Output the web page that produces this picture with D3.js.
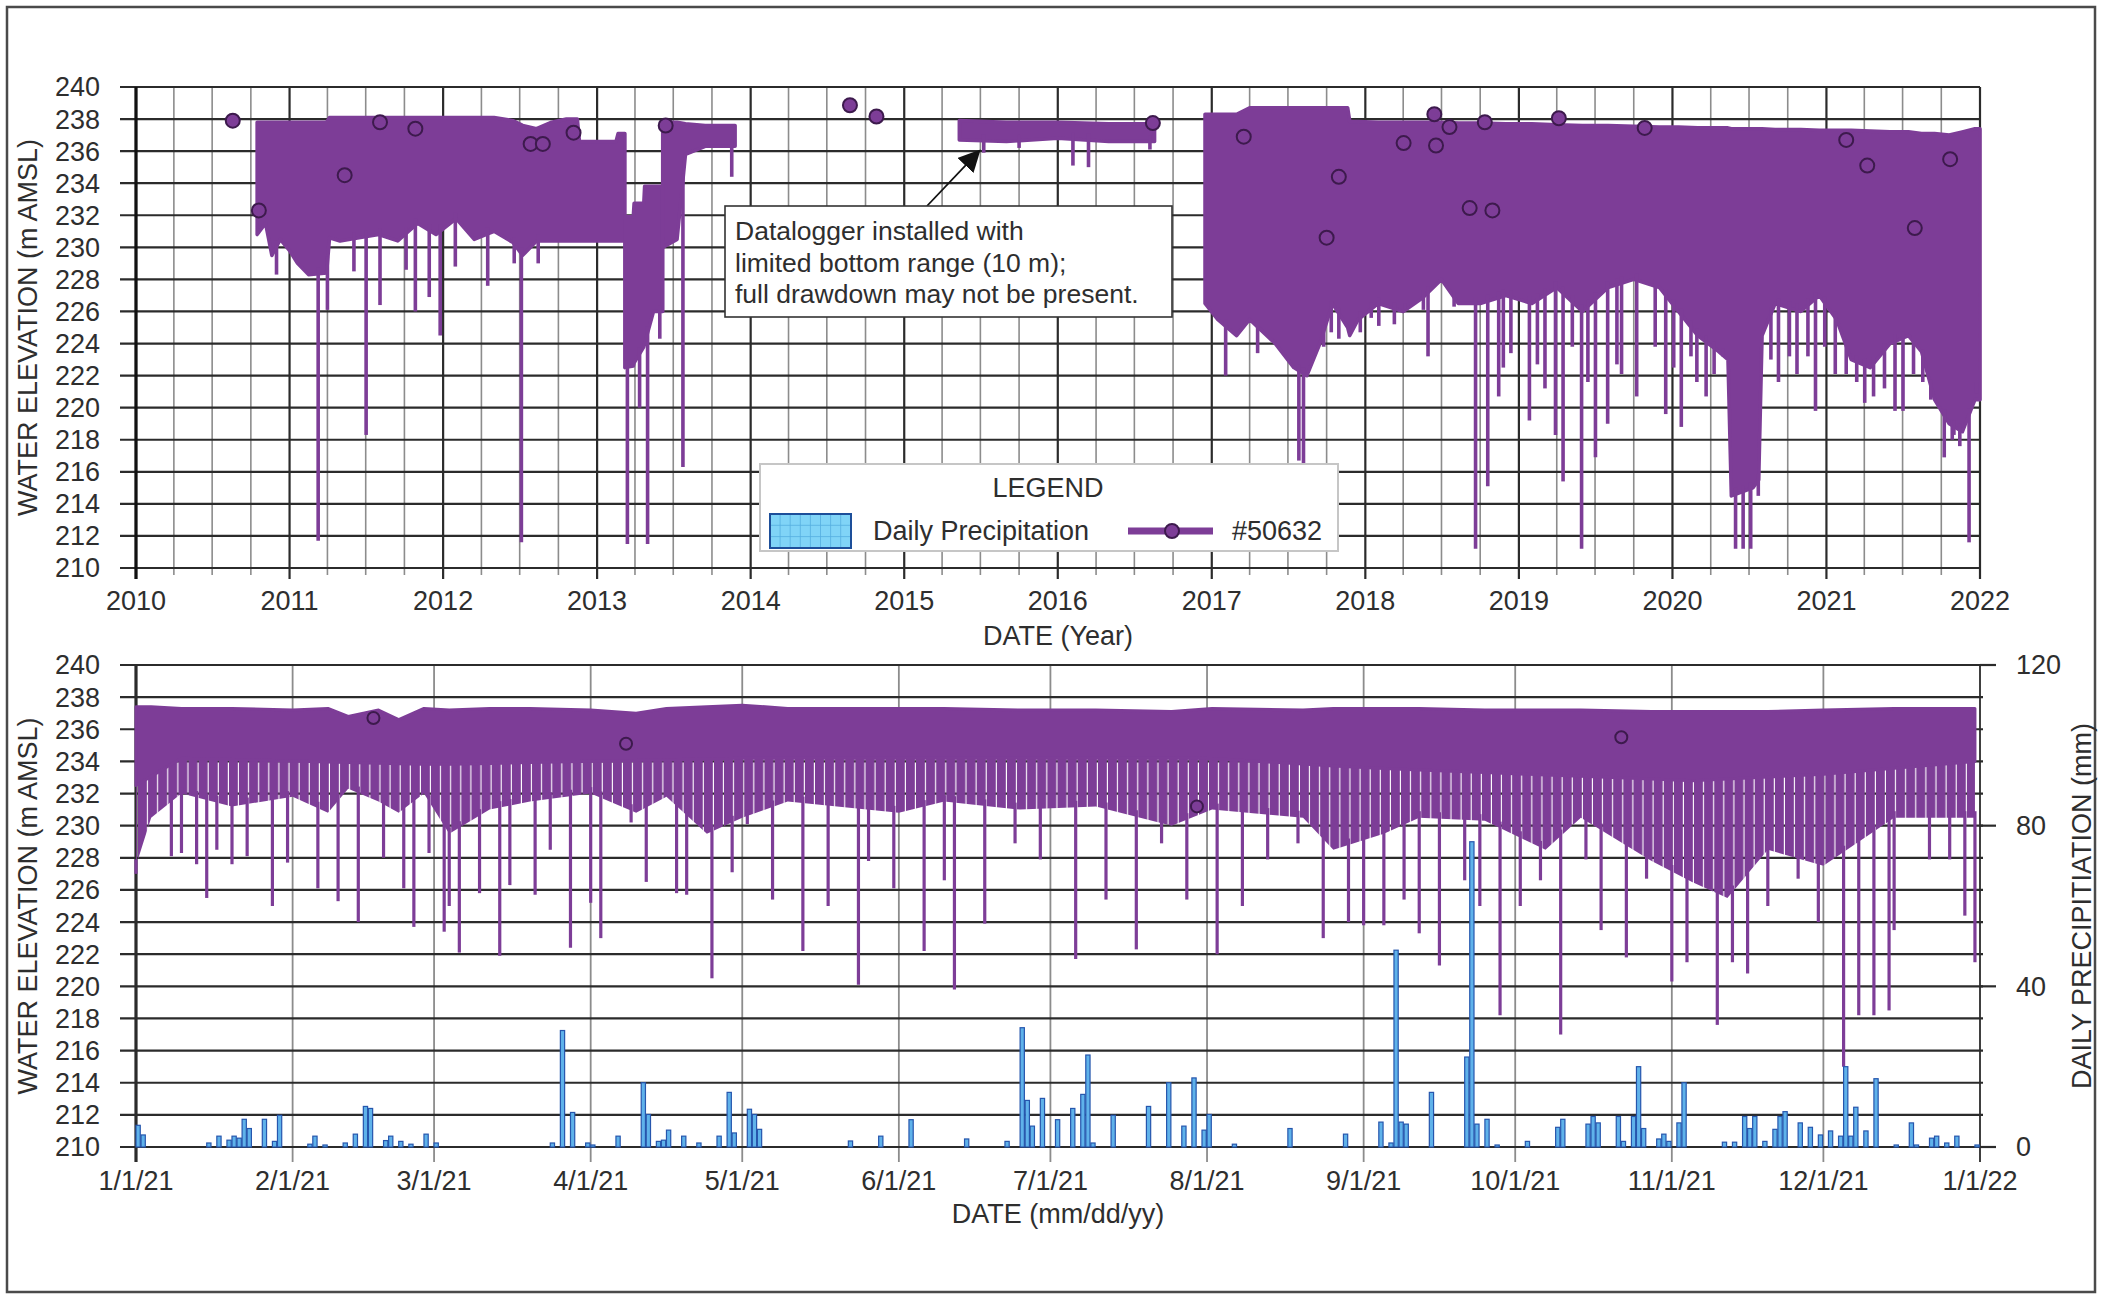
<!DOCTYPE html>
<html>
<head>
<meta charset="utf-8">
<script src="https://cdn.jsdelivr.net/npm/d3@7"></script>
<style>
  html, body { margin: 0; padding: 0; background: #fff; }
  svg text { font-family: "Liberation Sans", Arial, sans-serif; fill: #2e2e2e; }
</style>
</head>
<body>
<svg id="chart" width="2108" height="1294"></svg>
<script>
// ---- data ----
const elevationTicks = [210, 212, 214, 216, 218, 220, 222, 224, 226, 228, 230, 232, 234, 236, 238, 240];
const yearTicks = [2010, 2011, 2012, 2013, 2014, 2015, 2016, 2017, 2018, 2019, 2020, 2021, 2022];
const monthTickLabels = ['1/1/21', '2/1/21', '3/1/21', '4/1/21', '5/1/21', '6/1/21', '7/1/21',
  '8/1/21', '9/1/21', '10/1/21', '11/1/21', '12/1/21', '1/1/22'];
const precipTicks = [0, 40, 80, 120];

// datalogger record (2010-2022), envelope of the hourly trace: [date, upper, lower]
const logA = [
  ['2010-10-16', 237.8, 230.8], ['2010-11-05', 237.8, 231.5], ['2010-11-20', 237.8, 229.5],
  ['2010-12-10', 237.8, 230.5], ['2011-01-01', 237.8, 229.8], ['2011-01-20', 237.8, 229.0],
  ['2011-02-15', 237.8, 228.3], ['2011-03-30', 237.8, 228.4], ['2011-04-06', 238.1, 230.6],
  ['2011-05-01', 238.1, 230.4], ['2011-06-15', 238.1, 230.6], ['2011-08-01', 238.1, 230.8],
  ['2011-09-15', 238.1, 230.4], ['2011-11-01', 238.1, 231.5], ['2011-12-15', 238.1, 230.8],
  ['2012-02-01', 238.1, 231.8], ['2012-03-15', 238.1, 230.5], ['2012-05-01', 238.1, 231.0],
  ['2012-06-15', 237.9, 230.3], ['2012-07-08', 237.6, 229.5], ['2012-08-10', 237.4, 230.4],
  ['2012-09-15', 237.8, 230.4], ['2012-10-20', 238.0, 230.4], ['2012-11-15', 238.0, 230.4],
  ['2012-11-20', 236.6, 230.4], ['2013-02-15', 236.6, 230.4], ['2013-02-20', 237.1, 230.4],
  ['2013-03-08', 237.1, 230.4]
];
const logB = [
  ['2013-03-08', 231.9, 222.5], ['2013-03-28', 231.9, 222.6], ['2013-03-30', 232.75, 222.8],
  ['2013-04-22', 232.75, 223.8], ['2013-04-24', 233.8, 224.0], ['2013-05-15', 233.8, 226.0],
  ['2013-06-06', 233.8, 226.0]
];
const logC = [
  ['2013-06-06', 237.8, 230.0], ['2013-07-10', 237.8, 230.5], ['2013-07-30', 237.7, 235.8],
  ['2013-09-15', 237.6, 236.3], ['2013-11-25', 237.6, 236.3]
];
const logD = [
  ['2015-05-12', 237.9, 236.7], ['2015-09-01', 237.8, 236.6], ['2016-01-01', 237.8, 236.8],
  ['2016-05-01', 237.7, 236.6], ['2016-08-18', 237.7, 236.6]
];
const logE = [
  ['2016-12-16', 238.3, 226.5], ['2017-01-15', 238.3, 225.5], ['2017-03-01', 238.3, 224.5],
  ['2017-04-01', 238.7, 225.5], ['2017-06-01', 238.7, 224.0], ['2017-07-15', 238.7, 222.5],
  ['2017-08-15', 238.7, 222.0], ['2017-09-15', 238.7, 224.0], ['2017-10-15', 238.7, 226.5],
  ['2017-11-20', 238.7, 225.0], ['2017-11-25', 237.85, 224.5], ['2017-12-15', 237.85, 225.5],
  ['2018-02-01', 237.8, 226.5], ['2018-04-01', 237.8, 226.0], ['2018-05-15', 237.8, 226.8],
  ['2018-07-01', 237.8, 228.0], ['2018-08-10', 237.75, 226.5], ['2018-10-01', 237.75, 226.5],
  ['2018-12-01', 237.7, 227.0], ['2019-02-01', 237.7, 226.5], ['2019-04-01', 237.65, 227.5],
  ['2019-06-01', 237.6, 226.0], ['2019-08-01', 237.6, 227.5], ['2019-10-01', 237.55, 228.0],
  ['2019-12-01', 237.5, 227.5], ['2020-01-15', 237.5, 226.0], ['2020-03-01', 237.45, 224.5],
  ['2020-04-20', 237.45, 223.5], ['2020-05-12', 237.45, 223.0], ['2020-05-20', 237.4, 214.5],
  ['2020-07-10', 237.4, 215.0], ['2020-07-24', 237.4, 215.5], ['2020-08-01', 237.4, 224.5],
  ['2020-09-01', 237.35, 226.5], ['2020-11-01', 237.35, 226.0], ['2020-12-15', 237.3, 227.0],
  ['2021-01-25', 237.3, 225.5], ['2021-03-01', 237.3, 223.0], ['2021-04-15', 237.25, 222.5],
  ['2021-06-01', 237.2, 224.0], ['2021-07-15', 237.2, 224.5], ['2021-08-15', 237.1, 223.5],
  ['2021-09-15', 237.1, 220.5], ['2021-10-20', 237.0, 219.0], ['2021-11-20', 237.2, 218.5],
  ['2021-12-20', 237.4, 220.5], ['2022-01-01', 237.4, 220.5]
];
// drawdown minima of the long record: [date, minimum]
const logSpikes = [
  ['2010-12-01', 228.3], ['2011-03-10', 211.7], ['2011-04-01', 226.1], ['2011-06-03', 228.5],
  ['2011-07-02', 218.3], ['2011-08-04', 226.4], ['2011-10-05', 228.6], ['2011-10-27', 226.0],
  ['2011-11-29', 226.9], ['2011-12-25', 224.5], ['2012-01-30', 228.8], ['2012-04-16', 227.6],
  ['2012-06-18', 229.0], ['2012-07-05', 211.6], ['2012-08-14', 229.0], ['2013-03-14', 211.5],
  ['2013-04-12', 220.0], ['2013-05-01', 211.5], ['2013-05-30', 224.3], ['2013-07-24', 216.3],
  ['2013-11-17', 234.4], ['2015-07-09', 235.9], ['2015-10-01', 236.2], ['2016-02-06', 235.1],
  ['2016-03-14', 235.0], ['2016-08-07', 236.1], ['2017-02-03', 222.0], ['2017-04-20', 223.4],
  ['2017-07-27', 216.7], ['2017-08-07', 216.3], ['2017-09-24', 223.8], ['2017-10-12', 224.7],
  ['2017-10-30', 224.3], ['2017-12-20', 224.7], ['2018-01-15', 225.6], ['2018-02-02', 225.1],
  ['2018-03-11', 225.2], ['2018-04-05', 226.1], ['2018-05-19', 226.1], ['2018-05-30', 223.2],
  ['2018-07-31', 226.3], ['2018-09-20', 211.2], ['2018-10-19', 215.1], ['2018-11-14', 220.7],
  ['2018-11-25', 222.5], ['2018-12-13', 223.4], ['2019-01-26', 219.2], ['2019-02-14', 222.7],
  ['2019-03-04', 221.2], ['2019-03-29', 218.3], ['2019-04-16', 215.4], ['2019-05-08', 223.8],
  ['2019-05-30', 211.2], ['2019-06-14', 221.6], ['2019-07-02', 216.9], ['2019-07-31', 219.0],
  ['2019-08-22', 222.7], ['2019-09-02', 222.1], ['2019-10-08', 220.7], ['2019-11-21', 223.8],
  ['2019-12-16', 219.6], ['2020-01-04', 222.5], ['2020-01-22', 218.8], ['2020-02-14', 223.2],
  ['2020-02-28', 221.6], ['2020-03-21', 220.7], ['2020-04-09', 222.1], ['2020-04-30', 223.2],
  ['2020-05-30', 211.2], ['2020-06-17', 211.2], ['2020-07-05', 211.2], ['2020-07-23', 214.5],
  ['2020-08-22', 223.0], ['2020-09-09', 221.6], ['2020-10-05', 223.2], ['2020-10-23', 222.1],
  ['2020-11-18', 223.2], ['2020-12-06', 219.8], ['2020-12-28', 223.8], ['2021-01-22', 222.1],
  ['2021-02-17', 222.1], ['2021-03-14', 221.6], ['2021-04-02', 220.3], ['2021-04-23', 220.7],
  ['2021-05-19', 221.2], ['2021-06-13', 219.8], ['2021-07-02', 219.8], ['2021-07-27', 222.1],
  ['2021-08-18', 221.6], ['2021-09-06', 220.5], ['2021-10-08', 216.9], ['2021-10-27', 218.0],
  ['2021-10-31', 218.3], ['2021-11-14', 217.6], ['2021-12-06', 211.6], ['2021-12-24', 221.6]
];
// manual water level measurements (#50632)
const manualLevels = [
  ['2010-08-19', 237.9], ['2010-10-20', 232.3], ['2011-05-12', 234.5], ['2011-08-04', 237.8],
  ['2011-10-27', 237.4], ['2012-07-27', 236.45], ['2012-08-25', 236.45], ['2012-11-06', 237.15],
  ['2013-06-13', 237.6], ['2014-08-25', 238.86], ['2014-10-27', 238.16], ['2016-08-14', 237.75],
  ['2017-03-18', 236.9], ['2017-10-01', 230.6], ['2017-10-30', 234.4], ['2018-04-02', 236.5],
  ['2018-06-14', 238.3], ['2018-06-18', 236.35], ['2018-07-20', 237.5], ['2018-09-06', 232.45],
  ['2018-10-12', 237.8], ['2018-10-30', 232.3], ['2019-04-06', 238.05], ['2019-10-27', 237.45],
  ['2021-02-17', 236.7], ['2021-04-08', 235.1], ['2021-07-30', 231.2], ['2021-10-22', 235.5]
];

// 2021 detail: envelope [date, upper, lower], bottom of the solid part, and daily drawdown minima
const log2021 = [
  ['2021-01-01', 237.4, 227.5], ['2021-01-04', 237.4, 230.5], ['2021-01-10', 237.3, 232.0],
  ['2021-01-20', 237.3, 231.2], ['2021-02-01', 237.2, 231.8], ['2021-02-08', 237.3, 230.8],
  ['2021-02-12', 236.8, 232.3], ['2021-02-18', 237.2, 231.5], ['2021-02-22', 236.6, 230.8],
  ['2021-02-27', 237.3, 232.0], ['2021-03-04', 237.2, 229.5], ['2021-03-12', 237.3, 231.0],
  ['2021-03-20', 237.3, 231.5], ['2021-04-01', 237.2, 232.0], ['2021-04-10', 237.0, 230.8],
  ['2021-04-16', 237.3, 231.8], ['2021-04-24', 237.4, 229.5], ['2021-05-01', 237.5, 230.5],
  ['2021-05-10', 237.3, 231.5], ['2021-06-01', 237.3, 230.8], ['2021-06-10', 237.3, 231.5],
  ['2021-06-25', 237.2, 231.0], ['2021-07-10', 237.2, 231.2], ['2021-07-25', 237.1, 230.0],
  ['2021-08-02', 237.3, 231.0], ['2021-08-20', 237.2, 230.5], ['2021-08-26', 237.3, 228.5],
  ['2021-09-05', 237.3, 229.5], ['2021-09-12', 237.3, 230.5], ['2021-09-25', 237.2, 230.3],
  ['2021-10-07', 237.2, 228.5], ['2021-10-14', 237.2, 230.5], ['2021-10-28', 237.1, 227.8],
  ['2021-11-05', 237.1, 226.5], ['2021-11-12', 237.1, 225.5], ['2021-11-20', 237.1, 228.5],
  ['2021-12-01', 237.2, 227.5], ['2021-12-15', 237.3, 230.5], ['2021-12-31', 237.3, 230.5]
];
const solid2021 = [
  ['2021-01-01', 232.5], ['2021-01-10', 234.2], ['2021-03-01', 233.8], ['2021-05-01', 234.2],
  ['2021-08-01', 234.2], ['2021-09-01', 233.6], ['2021-11-05', 232.8], ['2021-12-01', 233.2],
  ['2021-12-31', 234.0]
];
const spikes2021 = [
  ['2021-01-01', 227.0], ['2021-01-08', 228.1], ['2021-01-10', 228.3], ['2021-01-13', 227.6],
  ['2021-01-15', 225.5], ['2021-01-17', 228.5], ['2021-01-20', 227.6], ['2021-01-23', 228.1],
  ['2021-01-28', 225.0], ['2021-01-31', 227.7], ['2021-02-06', 226.1], ['2021-02-10', 225.3],
  ['2021-02-14', 224.0], ['2021-02-19', 228.0], ['2021-02-23', 226.1], ['2021-02-25', 223.7],
  ['2021-02-28', 228.3], ['2021-03-03', 223.4], ['2021-03-04', 225.0], ['2021-03-06', 222.1],
  ['2021-03-10', 225.8], ['2021-03-14', 221.9], ['2021-03-16', 226.3], ['2021-03-21', 225.7],
  ['2021-03-24', 228.5], ['2021-03-28', 222.4], ['2021-04-01', 225.2], ['2021-04-03', 223.0],
  ['2021-04-09', 230.2], ['2021-04-12', 226.5], ['2021-04-18', 225.8], ['2021-04-20', 225.7],
  ['2021-04-25', 220.5], ['2021-04-29', 227.1], ['2021-05-02', 230.1], ['2021-05-07', 225.4],
  ['2021-05-13', 222.2], ['2021-05-18', 225.0], ['2021-05-24', 220.1], ['2021-05-26', 227.8],
  ['2021-05-31', 226.1], ['2021-06-06', 222.2], ['2021-06-10', 226.6], ['2021-06-12', 219.8],
  ['2021-06-18', 223.9], ['2021-06-24', 228.9], ['2021-06-29', 227.9], ['2021-07-06', 221.7],
  ['2021-07-12', 225.4], ['2021-07-18', 222.3], ['2021-07-23', 228.9], ['2021-07-28', 225.4],
  ['2021-08-03', 222.0], ['2021-08-08', 225.0], ['2021-08-13', 227.9], ['2021-08-19', 228.9],
  ['2021-08-24', 223.0], ['2021-08-29', 224.0], ['2021-09-01', 223.8], ['2021-09-05', 223.8],
  ['2021-09-09', 225.4], ['2021-09-12', 223.3], ['2021-09-16', 221.3], ['2021-09-21', 226.6],
  ['2021-09-24', 225.0], ['2021-09-28', 218.2], ['2021-10-02', 225.0], ['2021-10-06', 226.6],
  ['2021-10-10', 217.0], ['2021-10-15', 227.9], ['2021-10-18', 223.5], ['2021-10-23', 221.8],
  ['2021-10-27', 226.7], ['2021-11-01', 220.3], ['2021-11-04', 221.5], ['2021-11-10', 217.6],
  ['2021-11-13', 221.5], ['2021-11-16', 220.8], ['2021-11-20', 225.0], ['2021-11-26', 226.7],
  ['2021-11-30', 224.0], ['2021-12-05', 215.0], ['2021-12-08', 218.2], ['2021-12-11', 218.2],
  ['2021-12-14', 218.5], ['2021-12-15', 223.5], ['2021-12-22', 227.9], ['2021-12-26', 227.9],
  ['2021-12-29', 224.4], ['2021-12-31', 221.5]
];
// daily precipitation 2021, mm
const precipDates = [
  '2021-01-01', '2021-01-02', '2021-01-15', '2021-01-17', '2021-01-19', '2021-01-20', '2021-01-21',
  '2021-01-22', '2021-01-23', '2021-01-26', '2021-01-28', '2021-01-29', '2021-02-04', '2021-02-05',
  '2021-02-07', '2021-02-11', '2021-02-13', '2021-02-15', '2021-02-16', '2021-02-19', '2021-02-20',
  '2021-02-22', '2021-02-24', '2021-02-27', '2021-03-01', '2021-03-24', '2021-03-26', '2021-03-28',
  '2021-03-31', '2021-04-01', '2021-04-06', '2021-04-11', '2021-04-12', '2021-04-14', '2021-04-15',
  '2021-04-16', '2021-04-19', '2021-04-22', '2021-04-26', '2021-04-28', '2021-04-29', '2021-05-02',
  '2021-05-03', '2021-05-04', '2021-05-22', '2021-05-28', '2021-06-03', '2021-06-14', '2021-06-22',
  '2021-06-25', '2021-06-26', '2021-06-27', '2021-06-29', '2021-07-02', '2021-07-05', '2021-07-07',
  '2021-07-08', '2021-07-09', '2021-07-13', '2021-07-20', '2021-07-24', '2021-07-27', '2021-07-29',
  '2021-07-31', '2021-08-01', '2021-08-06', '2021-08-17', '2021-08-28', '2021-09-04', '2021-09-06',
  '2021-09-07', '2021-09-08', '2021-09-09', '2021-09-14', '2021-09-21', '2021-09-22', '2021-09-23',
  '2021-09-25', '2021-09-27', '2021-10-03', '2021-10-09', '2021-10-10', '2021-10-15', '2021-10-16',
  '2021-10-17', '2021-10-21', '2021-10-22', '2021-10-24', '2021-10-25', '2021-10-26', '2021-10-29',
  '2021-10-30', '2021-10-31', '2021-11-02', '2021-11-03', '2021-11-11', '2021-11-13', '2021-11-15',
  '2021-11-16', '2021-11-17', '2021-11-19', '2021-11-21', '2021-11-22', '2021-11-23', '2021-11-26',
  '2021-11-28', '2021-11-30', '2021-12-02', '2021-12-04', '2021-12-05', '2021-12-06', '2021-12-07',
  '2021-12-09', '2021-12-11', '2021-12-15', '2021-12-18', '2021-12-19', '2021-12-22', '2021-12-23',
  '2021-12-25', '2021-12-27', '2021-12-31'
];
const precipMm = [
  5.4, 3.0, 1.0, 2.7, 1.7, 2.7, 2.2,
  6.9, 4.6, 6.9, 1.4, 7.9, 0.7, 2.7,
  0.5, 1.0, 3.2, 10.1, 9.6, 1.6, 2.7,
  1.4, 0.7, 3.2, 1.0, 1.0, 29.0, 8.6,
  1.0, 0.5, 2.7, 16.0, 8.1, 1.4, 1.7,
  4.2, 2.7, 1.0, 2.7, 13.6, 3.5, 9.4,
  8.1, 4.4, 1.5, 2.7, 6.8, 2.0, 1.4,
  29.7, 11.6, 5.2, 12.1, 6.8, 9.6, 13.1,
  22.9, 1.0, 7.9, 10.1, 16.0, 5.2, 17.2,
  4.2, 8.1, 0.7, 4.6, 3.2, 6.2, 1.0,
  49.0, 6.2, 5.7, 13.6, 22.4, 76.0, 5.7,
  6.9, 0.5, 1.4, 4.9, 6.9, 5.7, 7.6,
  6.0, 7.6, 1.4, 7.6, 20.0, 4.6, 2.0,
  3.2, 1.4, 6.0, 16.0, 1.2, 1.2, 7.6,
  4.6, 7.6, 1.4, 4.4, 7.6, 8.8, 6.0,
  4.9, 3.0, 4.0, 2.7, 20.0, 2.7, 9.9,
  4.0, 17.0, 0.5, 6.0, 0.5, 2.2, 2.7,
  1.0, 2.7, 0.5
];

// ---- drawing ----
const parseDate = d3.timeParse('%Y-%m-%d');
const purple = '#7d3d97';
const circleStroke = '#3d1a4d';
const gridDark = '#2b2b2b';
const gridLight = '#8c8c8c';

const svg = d3.select('#chart');
const defs = svg.append('defs');
const M = { left: 136, right: 1980 };

const toBand = rows => rows.map(r => ({ date: parseDate(r[0]), upper: r[1], lower: r[2] }));
const toPoints = rows => rows.map(r => ({ date: parseDate(r[0]), value: r[1] }));

// linear reading between two read points of a [date, key] list
function valueAt(list, date, key) {
  const bis = d3.bisector(d => d.date).right;
  const i = Math.min(list.length - 1, Math.max(1, bis(list, date)));
  const a = list[i - 1], c = list[i];
  const t = Math.max(0, Math.min(1, (date - a.date) / ((c.date - a.date) || 1)));
  return a[key] + (c[key] - a[key]) * t;
}

function bandLowerAt(bands, date) {
  for (const b of bands) {
    if (date >= b[0].date && date <= b[b.length - 1].date) return valueAt(b, date, 'lower');
  }
  return null;
}

function drawSpikes(g, x, y, bands, spikes, lineWidth) {
  g.selectAll('line.spike').data(spikes).join('line')
    .attr('class', 'spike')
    .attr('x1', d => x(d.date)).attr('x2', d => x(d.date))
    .attr('y1', d => y(d.value))
    .attr('y2', d => { const t = bandLowerAt(bands, d.date); return y(t === null ? d.value : t + 0.4); })
    .attr('stroke', purple).attr('stroke-width', lineWidth).attr('stroke-linecap', 'butt');
}

function drawCircles(g, x, y, pts, r) {
  g.selectAll('circle.manual').data(pts).join('circle')
    .attr('class', 'manual')
    .attr('cx', d => x(d.date)).attr('cy', d => y(d.value)).attr('r', r)
    .attr('fill', purple).attr('stroke', circleStroke).attr('stroke-width', 2);
}

// outer frame
svg.append('rect').attr('x', 7).attr('y', 7).attr('width', 2088).attr('height', 1285)
  .attr('fill', 'none').attr('stroke', '#4a4a4a').attr('stroke-width', 2.5);

// ================= top panel: 2010-2022 =================
const topP = { y0: 87, y1: 568 };
const xTop = d3.scaleTime().domain([new Date(2010, 0, 1), new Date(2022, 0, 1)]).range([M.left, M.right]);
const yTop = d3.scaleLinear().domain([210, 240]).range([topP.y1, topP.y0]);
const gTop = svg.append('g');

// vertical grid: quarters light, years dark
const quarters = d3.timeMonth.every(3).range(new Date(2010, 0, 1), new Date(2022, 0, 2));
gTop.selectAll('line.vq').data(quarters).join('line')
  .attr('x1', d => xTop(d)).attr('x2', d => xTop(d))
  .attr('y1', topP.y0).attr('y2', d => topP.y1 + (d.getMonth() === 0 ? 11 : 7))
  .attr('stroke', d => d.getMonth() === 0 ? gridDark : gridLight)
  .attr('stroke-width', d => d.getMonth() === 0 ? 2.2 : 1.6);
gTop.selectAll('line.h').data(elevationTicks).join('line')
  .attr('x1', M.left - 16).attr('x2', M.right)
  .attr('y1', d => yTop(d)).attr('y2', d => yTop(d))
  .attr('stroke', gridDark).attr('stroke-width', 2.2);
gTop.append('line').attr('x1', M.left).attr('x2', M.left).attr('y1', topP.y0).attr('y2', topP.y1 + 11)
  .attr('stroke', '#111').attr('stroke-width', 3.2);

gTop.selectAll('text.yl').data(elevationTicks).join('text')
  .attr('x', 100).attr('y', d => yTop(d)).attr('dy', '0.35em')
  .attr('text-anchor', 'end').attr('font-size', 27).text(d => d);
gTop.selectAll('text.xl').data(yearTicks).join('text')
  .attr('x', d => xTop(new Date(d, 0, 1))).attr('y', 601).attr('dy', '0.35em')
  .attr('text-anchor', 'middle').attr('font-size', 27).text(d => d);
gTop.append('text').attr('x', (M.left + M.right) / 2).attr('y', 636).attr('dy', '0.35em')
  .attr('text-anchor', 'middle').attr('font-size', 27).text('DATE (Year)');
gTop.append('text').attr('transform', `translate(28,${(topP.y0 + topP.y1) / 2}) rotate(-90)`)
  .attr('dy', '0.35em').attr('text-anchor', 'middle').attr('font-size', 27)
  .text('WATER ELEVATION (m AMSL)');

const topBands = [logA, logB, logC, logD, logE].map(toBand);
const areaTop = d3.area().x(d => xTop(d.date)).y0(d => yTop(d.lower)).y1(d => yTop(d.upper));
topBands.forEach(b => {
  gTop.append('path').datum(b).attr('d', areaTop)
    .attr('fill', purple).attr('stroke', purple)
    .attr('stroke-width', 3.6).attr('stroke-linejoin', 'round');
});
drawSpikes(gTop, xTop, yTop, topBands, toPoints(logSpikes), 3.6);
drawCircles(gTop, xTop, yTop, toPoints(manualLevels), 7);

// annotation
const tip = [xTop(parseDate('2015-06-28')), yTop(236.0)];
defs.append('marker').attr('id', 'arrow')
  .attr('viewBox', '0 0 10 10').attr('refX', 9).attr('refY', 5)
  .attr('markerWidth', 22).attr('markerHeight', 22).attr('markerUnits', 'userSpaceOnUse')
  .attr('orient', 'auto')
  .append('path').attr('d', 'M0,0 L10,5 L0,10 z').attr('fill', '#111');
gTop.append('line').attr('x1', 927).attr('y1', 206).attr('x2', tip[0]).attr('y2', tip[1])
  .attr('stroke', '#111').attr('stroke-width', 1.8).attr('marker-end', 'url(#arrow)');
gTop.append('rect').attr('x', 725).attr('y', 206).attr('width', 447).attr('height', 111)
  .attr('fill', '#fff').attr('stroke', '#333').attr('stroke-width', 1.6);
['Datalogger installed with', 'limited bottom range (10 m);', 'full drawdown may not be present.']
  .forEach((t, i) => {
    gTop.append('text').attr('x', 735).attr('y', 231 + i * 31.5).attr('dy', '0.35em')
      .attr('font-size', 26.5).text(t);
  });

// legend
const lg = svg.append('g');
lg.append('rect').attr('x', 760).attr('y', 464).attr('width', 578).attr('height', 87)
  .attr('fill', '#fff').attr('stroke', '#c6c6c6').attr('stroke-width', 2);
lg.append('text').attr('x', 1048).attr('y', 488).attr('dy', '0.35em')
  .attr('text-anchor', 'middle').attr('font-size', 27).text('LEGEND');
lg.append('rect').attr('x', 770).attr('y', 514).attr('width', 81).attr('height', 34)
  .attr('fill', '#80d4f7');
d3.range(1, 8).forEach(i => lg.append('line')
  .attr('x1', 770 + i * 10.1).attr('x2', 770 + i * 10.1).attr('y1', 514).attr('y2', 548)
  .attr('stroke', '#55aee0').attr('stroke-width', 0.8));
[525.3, 536.6].forEach(yy => lg.append('line')
  .attr('x1', 770).attr('x2', 851).attr('y1', yy).attr('y2', yy)
  .attr('stroke', '#55aee0').attr('stroke-width', 0.8));
lg.append('rect').attr('x', 770).attr('y', 514).attr('width', 81).attr('height', 34)
  .attr('fill', 'none').attr('stroke', '#1d4f9a').attr('stroke-width', 2);
lg.append('text').attr('x', 873).attr('y', 531).attr('dy', '0.35em')
  .attr('font-size', 27).text('Daily Precipitation');
lg.append('line').attr('x1', 1128).attr('x2', 1213).attr('y1', 531).attr('y2', 531)
  .attr('stroke', purple).attr('stroke-width', 7);
lg.append('circle').attr('cx', 1172).attr('cy', 531).attr('r', 7)
  .attr('fill', purple).attr('stroke', circleStroke).attr('stroke-width', 2);
lg.append('text').attr('x', 1232).attr('y', 531).attr('dy', '0.35em')
  .attr('font-size', 27).text('#50632');

// ================= bottom panel: 2021 =================
const botP = { y0: 665, y1: 1147 };
const xBot = d3.scaleTime().domain([new Date(2021, 0, 1), new Date(2022, 0, 1)]).range([M.left, M.right]);
const yBot = d3.scaleLinear().domain([210, 240]).range([botP.y1, botP.y0]);
const yPrec = d3.scaleLinear().domain([0, 120]).range([botP.y1, botP.y0]);
const gBot = svg.append('g');

const months = d3.timeMonth.range(new Date(2021, 0, 1), new Date(2022, 0, 2));
gBot.selectAll('line.vm').data(months).join('line')
  .attr('x1', d => xBot(d)).attr('x2', d => xBot(d))
  .attr('y1', botP.y0).attr('y2', botP.y1 + 15)
  .attr('stroke', (d, i) => (i === 0 || i === months.length - 1) ? gridDark : gridLight)
  .attr('stroke-width', (d, i) => i === 0 ? 3.2 : 1.8);
gBot.selectAll('line.h').data(elevationTicks).join('line')
  .attr('x1', M.left - 16).attr('x2', M.right + 3)
  .attr('y1', d => yBot(d)).attr('y2', d => yBot(d))
  .attr('stroke', gridDark).attr('stroke-width', 2.2);
gBot.selectAll('line.rt').data(precipTicks).join('line')
  .attr('x1', M.right).attr('x2', M.right + 16)
  .attr('y1', d => yPrec(d)).attr('y2', d => yPrec(d))
  .attr('stroke', gridDark).attr('stroke-width', 2.2);

gBot.selectAll('text.yl').data(elevationTicks).join('text')
  .attr('x', 100).attr('y', d => yBot(d)).attr('dy', '0.35em')
  .attr('text-anchor', 'end').attr('font-size', 27).text(d => d);
gBot.selectAll('text.rl').data(precipTicks).join('text')
  .attr('x', 2016).attr('y', d => yPrec(d)).attr('dy', '0.35em')
  .attr('font-size', 27).text(d => d);
gBot.selectAll('text.xl').data(months).join('text')
  .attr('x', d => xBot(d)).attr('y', 1181).attr('dy', '0.35em')
  .attr('text-anchor', 'middle').attr('font-size', 27).text((d, i) => monthTickLabels[i]);
gBot.append('text').attr('x', (M.left + M.right) / 2).attr('y', 1214).attr('dy', '0.35em')
  .attr('text-anchor', 'middle').attr('font-size', 27).text('DATE (mm/dd/yy)');
gBot.append('text').attr('transform', `translate(28,${(botP.y0 + botP.y1) / 2}) rotate(-90)`)
  .attr('dy', '0.35em').attr('text-anchor', 'middle').attr('font-size', 27)
  .text('WATER ELEVATION (m AMSL)');
gBot.append('text').attr('transform', `translate(2082,${(botP.y0 + botP.y1) / 2}) rotate(-90)`)
  .attr('dy', '0.35em').attr('text-anchor', 'middle').attr('font-size', 27)
  .text('DAILY PRECIPITIATION (mm)');

// the daily cycles are only a few px apart here, so the lower part of the trace
// reads as a dense comb with thin white slits
const dayW = xBot(new Date(2021, 0, 2)) - xBot(new Date(2021, 0, 1));
const comb = defs.append('pattern').attr('id', 'comb').attr('patternUnits', 'userSpaceOnUse')
  .attr('x', M.left + 2).attr('y', 0).attr('width', dayW * 2).attr('height', 20);
comb.append('rect').attr('x', 0).attr('y', 0).attr('width', dayW * 2 - 1.1).attr('height', 20)
  .attr('fill', purple);

const band2021 = toBand(log2021);
const solid = toPoints(solid2021);
gBot.append('path').datum(band2021)
  .attr('d', d3.area().x(d => xBot(d.date)).y0(d => yBot(d.lower)).y1(d => yBot(d.upper)))
  .attr('fill', 'url(#comb)');
gBot.append('path').datum(band2021)
  .attr('d', d3.area().x(d => xBot(d.date))
    .y0(d => yBot(valueAt(solid, d.date, 'value'))).y1(d => yBot(d.upper)))
  .attr('fill', purple).attr('stroke', purple).attr('stroke-width', 3).attr('stroke-linejoin', 'round');
drawSpikes(gBot, xBot, yBot, [band2021], toPoints(spikes2021), 3.2);
drawCircles(gBot, xBot, yBot,
  toPoints(manualLevels).filter(d => d.date >= new Date(2021, 0, 1)), 6);

// precipitation bars
const precip = precipDates.map((d, i) => ({ date: parseDate(d), mm: precipMm[i] }));
gBot.selectAll('rect.bar').data(precip).join('rect')
  .attr('class', 'bar')
  .attr('x', d => xBot(d.date))
  .attr('width', d => xBot(d3.timeDay.offset(d.date, 1)) - xBot(d.date) - 0.8)
  .attr('y', d => yPrec(d.mm))
  .attr('height', d => yPrec(0) - yPrec(d.mm))
  .attr('fill', '#5fb2ea').attr('stroke', '#2656ad').attr('stroke-width', 1.2);
</script>
</body>
</html>
